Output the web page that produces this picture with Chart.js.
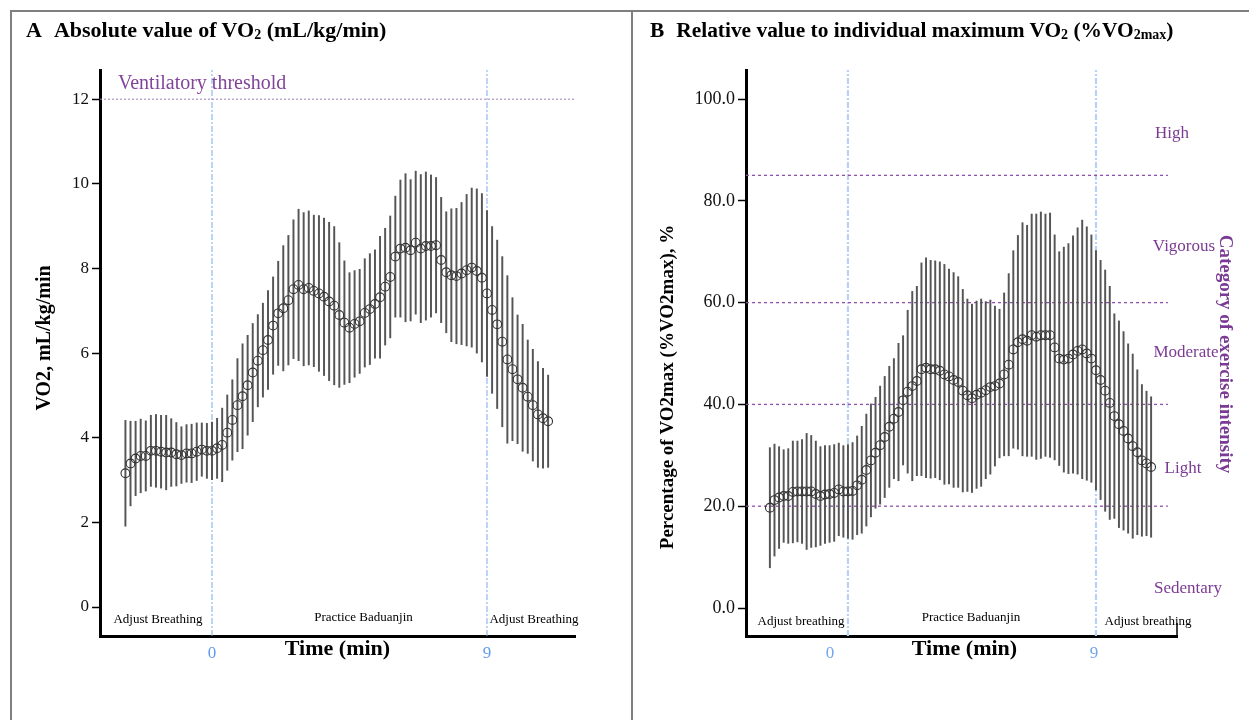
<!DOCTYPE html>
<html>
<head>
<meta charset="utf-8">
<script src="https://cdn.jsdelivr.net/npm/chart.js@4.4.1/dist/chart.umd.min.js"></script>
<style>
  body { margin: 0; background: #fff; }
  #page { position: relative; width: 1249px; height: 720px; overflow: hidden; font-family: "Liberation Serif", "Times New Roman", serif; }
  canvas { position: absolute; top: 0; }
  .frame { position: absolute; background: #7f7f7f; }
  .ptitle { position: absolute; top: 17px; line-height: 26px; font-weight: bold; font-size: 22px; color: #000; white-space: nowrap; }
  .ptitle sub { font-size: 14px; vertical-align: -2px; line-height: 0; }
  .ptitle .txt { margin-left: 12px; }
</style>
</head>
<body>
<div id="page">
  <div class="frame" style="left:10px;top:10px;width:1239px;height:2px"></div>
  <div class="frame" style="left:10px;top:10px;width:2px;height:710px"></div>
  <div class="frame" style="left:631px;top:10px;width:2px;height:710px"></div>
  <canvas id="chartA" width="632" height="720" style="left:0"></canvas>
  <canvas id="chartB" width="617" height="720" style="left:632px"></canvas>
  <div class="ptitle" style="left:26px">A<span class="txt">Absolute value of VO<sub>2</sub> (mL/kg/min)</span></div>
  <div class="ptitle" style="left:650px;font-size:21.4px">B<span class="txt">Relative value to individual maximum VO<sub>2</sub> (%VO<sub>2max</sub>)</span></div>
</div>
<script>
// sampling times, seconds from start of Baduanjin
const timeSec = [-170,-160,-150,-140,-130,-120,-110,-100,-90,-80,-70,-60,-50,-40,-30,-20,-10,
  0,10,20,30,40,50,60,70,80,90,100,110,120,130,140,150,160,170,180,190,200,210,220,230,240,250,
  260,270,280,290,300,310,320,330,340,350,360,370,380,390,400,410,420,430,440,450,460,470,480,490,
  500,510,520,530,540,550,560,570,580,590,600,610,620,630,640,650,660];

// A: VO2 mL/kg/min, mean and SD
const meanA = [3.16,3.39,3.51,3.57,3.57,3.69,3.69,3.67,3.65,3.65,3.61,3.59,3.63,3.63,3.67,3.72,3.69,
  3.69,3.75,3.83,4.12,4.42,4.77,4.98,5.24,5.54,5.82,6.07,6.31,6.65,6.94,7.06,7.25,7.51,7.61,7.51,
  7.54,7.47,7.41,7.33,7.22,7.12,6.90,6.72,6.60,6.69,6.75,6.95,7.04,7.16,7.32,7.57,7.80,8.28,8.47,
  8.49,8.43,8.61,8.47,8.53,8.53,8.55,8.20,7.91,7.84,7.82,7.88,7.96,8.02,7.94,7.78,7.41,7.02,6.68,
  6.27,5.85,5.62,5.38,5.18,4.97,4.77,4.55,4.46,4.39];
const sdA = [1.25,1.00,0.88,0.87,0.83,0.84,0.86,0.86,0.88,0.80,0.75,0.67,0.68,0.69,0.68,0.63,0.65,
  0.68,0.71,0.87,0.89,0.95,1.10,1.24,1.18,1.16,1.09,1.11,1.17,1.15,1.23,1.48,1.53,1.64,1.79,1.81,
  1.82,1.79,1.84,1.86,1.87,1.87,1.71,1.46,1.30,1.26,1.23,1.28,1.31,1.28,1.44,1.38,1.44,1.43,1.62,
  1.75,1.67,1.69,1.75,1.75,1.68,1.60,1.48,1.43,1.57,1.60,1.68,1.79,1.88,1.94,1.99,1.96,1.97,1.99,
  2.01,1.98,1.69,1.52,1.50,1.34,1.32,1.25,1.18,1.09];

// B: %VO2max, mean and SD
const meanB = [19.7,21.2,21.7,22.0,22.0,22.8,22.9,22.9,22.9,22.9,22.4,22.0,22.3,22.4,22.6,23.3,22.9,
  22.9,23.0,24.1,25.2,27.1,29.0,30.5,32.0,33.6,35.6,37.2,38.5,40.8,42.5,43.6,44.6,46.9,47.2,46.9,
  46.9,46.6,45.9,45.5,44.8,44.4,42.7,41.8,41.2,41.9,42.3,42.8,43.4,43.6,44.1,45.9,47.8,50.8,52.2,
  52.8,52.5,53.6,53.3,53.6,53.6,53.6,51.2,49.0,48.8,49.0,49.8,50.5,50.8,50.0,49.0,46.7,44.8,42.7,
  40.3,37.7,36.1,34.8,33.3,31.8,30.6,29.0,28.4,27.7];
const sdB = [11.8,11.0,10.0,9.1,9.3,10.0,9.9,10.2,11.4,11.0,10.4,9.7,9.6,9.5,9.5,9.1,9.0,
  9.2,9.5,9.7,10.5,11.0,11.1,10.9,11.6,11.9,11.9,11.8,13.5,12.7,16.0,18.6,18.6,20.9,21.6,21.4,
  21.3,21.4,21.6,21.1,21.1,20.7,19.9,18.9,18.5,18.4,18.4,17.4,17.1,15.7,14.6,16.0,17.9,19.4,21.0,
  22.9,22.7,23.8,24.1,24.2,23.8,24.0,22.1,21.0,22.1,22.6,23.3,24.2,25.4,24.9,24.3,23.5,23.5,23.7,
  22.9,20.1,20.3,19.5,18.6,18.1,16.2,14.9,14.2,13.8];

const yTicksA = [0, 2, 4, 6, 8, 10, 12];
const yTicksB = [0, 20, 40, 60, 80, 100];
const xTickLabels = ['0', '9'];
const phaseBounds = [0, 9];           // minutes
const phaseNamesA = ['Adjust Breathing', 'Practice Baduanjin', 'Adjust Breathing'];
const phaseNamesB = ['Adjust breathing', 'Practice Baduanjin', 'Adjust breathing'];
const ventThreshold = 12;
const catCuts = [20, 40, 60, 85];
const catNames = ['Sedentary', 'Light', 'Moderate', 'Vigorous', 'High'];
const catLabelAt = [3.8, 27.4, 50.1, 71.1, 93.3];

Chart.defaults.font.family = '"Liberation Serif", "Times New Roman", serif';
Chart.defaults.color = '#000';

const PURPLE = '#7b3a93';

function drawText(ctx, str, x, y, font, color, align, rot) {
  ctx.save();
  ctx.translate(x, y);
  if (rot) ctx.rotate(rot);
  ctx.font = font;
  ctx.fillStyle = color;
  ctx.textAlign = align || 'center';
  ctx.textBaseline = 'middle';
  ctx.fillText(str, 0, 0);
  ctx.restore();
}

function buildChart(id, p) {
  const pts = timeSec.map((t, i) => ({ x: t / 60, y: p.mean[i] }));
  const bars = timeSec.map((t, i) => ({ x: t / 60, y: [p.mean[i] - p.sd[i], p.mean[i] + p.sd[i]] }));

  const datasets = [
    { type: 'scatter', data: pts, order: 0, pointRadius: 4.4, pointBorderWidth: 1.1,
      pointBackgroundColor: 'rgba(0,0,0,0)', pointBorderColor: '#333' },
    { type: 'bar', data: bars, order: 1, barThickness: 1.3, backgroundColor: '#555', borderWidth: 0 }
  ];
  phaseBounds.forEach(b => datasets.push({
    type: 'line', data: [{ x: b, y: p.yMin }, { x: b, y: p.yMax }], order: 3,
    borderColor: p.blueLine, borderWidth: p.blueWidth, borderDash: [6, 2, 2, 2], pointRadius: 0
  }));
  p.hLines.forEach(v => datasets.push({
    type: 'line', data: [{ x: p.xMin, y: v }, { x: p.hLineEnd, y: v }], order: 2,
    borderColor: p.purpleLine, borderWidth: p.purpleWidth, borderDash: p.purpleDash, pointRadius: 0
  }));

  const annot = {
    id: 'annot' + id,
    afterDraw(chart) {
      const ctx = chart.ctx, a = chart.chartArea;
      const xs = chart.scales.x, ys = chart.scales.y;
      p.phaseNames.forEach((s, i) =>
        drawText(ctx, s, p.phaseX[i], p.phaseY[i], '13px "Liberation Serif"', '#000'));
      drawText(ctx, 'Time (min)', (xs.left + xs.right) / 2 + p.xTitleDx, a.bottom + 13,
        'bold 22px "Liberation Serif"', '#000');
      drawText(ctx, p.yTitle, p.yTitleX, p.yTitleY, p.yTitleFont, '#000', 'center', -Math.PI / 2);
      if (p.extra) p.extra(ctx, a, xs, ys);
    }
  };

  return new Chart(document.getElementById(id), {
    type: 'scatter',
    data: { datasets },
    plugins: [annot],
    options: {
      responsive: false,
      animation: false,
      events: [],
      layout: { padding: { left: 0, top: 70, right: p.padRight, bottom: 0 } },
      plugins: { legend: { display: false }, tooltip: { enabled: false } },
      scales: {
        x: {
          type: 'linear', min: p.xMin, max: p.xMax, offset: false,
          grid: { display: false, drawTicks: false },
          border: { display: true, color: '#000', width: 3 },
          afterBuildTicks: s => { s.ticks = p.xTickPos.map(v => ({ value: v })); },
          afterFit: s => { s.height = 84; },
          ticks: { autoSkip: false, maxRotation: 0, padding: 7, color: p.blueText,
            font: { size: 17 }, callback: (v, i) => xTickLabels[i] }
        },
        y: {
          type: 'linear', min: p.yMin, max: p.yMax,
          grid: { display: true, drawOnChartArea: false, drawTicks: true, tickLength: 8,
            tickWidth: 1.5, tickColor: '#000' },
          border: { display: true, color: '#000', width: 3 },
          afterBuildTicks: s => { s.ticks = p.yTicks.map(v => ({ value: v })); },
          afterFit: s => { s.width = p.yWidth; },
          ticks: { autoSkip: false, padding: 3, color: '#111', font: { size: p.yTickSize },
            callback: p.yFmt }
        }
      }
    }
  });
}

buildChart('chartA', {
  mean: meanA, sd: sdA,
  xMin: -3.665, xMax: 11.88, yMin: -0.685, yMax: 12.69,
  yTicks: yTicksA, yFmt: v => String(v), yTickSize: 17, yWidth: 100, padRight: 57,
  xTickPos: phaseBounds, blueText: '#5e9cf0',
  blueLine: '#78a8ee', blueWidth: 1,
  hLines: [ventThreshold], hLineEnd: 11.88,
  purpleLine: '#a281bd', purpleWidth: 1, purpleDash: [2, 2],
  phaseNames: phaseNamesA, phaseX: [158, 363.5, 534], phaseY: [620, 618, 620],
  xTitleDx: 0,
  yTitle: 'VO2, mL/kg/min', yTitleX: 45, yTitleY: 338, yTitleFont: 'bold 20px "Liberation Serif"',
  extra(ctx, a, xs, ys) {
    drawText(ctx, 'Ventilatory threshold', a.left + 18, ys.getPixelForValue(ventThreshold) - 15,
      '20px "Liberation Serif"', '#82449a', 'left');
  }
});

buildChart('chartB', {
  mean: meanB, sd: sdB,
  xMin: -3.70, xMax: 11.94, yMin: -5.5, yMax: 105.7,
  yTicks: yTicksB, yFmt: v => v.toFixed(1), yTickSize: 18, yWidth: 114, padRight: 72,
  xTickPos: [-0.65, 8.93], blueText: '#72a6f0',
  blueLine: '#b6d2f6', blueWidth: 2.2,
  hLines: catCuts, hLineEnd: 11.61,
  purpleLine: '#9150a9', purpleWidth: 1.3, purpleDash: [3, 3],
  phaseNames: phaseNamesB, phaseX: [169, 339, 516], phaseY: [622, 618, 622],
  xTitleDx: 3,
  yTitle: 'Percentage of VO2max (%VO2max), %', yTitleX: 36, yTitleY: 387,
  yTitleFont: 'bold 19px "Liberation Serif"',
  extra(ctx, a, xs, ys) {
    const cx = [556, 551, 554, 552, 540];
    catNames.forEach((s, i) =>
      drawText(ctx, s, cx[i], ys.getPixelForValue(catLabelAt[i]), '17px "Liberation Serif"', PURPLE));
    drawText(ctx, 'Category of exercise intensity', 593, 354, 'bold 19px "Liberation Serif"',
      PURPLE, 'center', Math.PI / 2);
    ctx.save();
    ctx.strokeStyle = '#000';
    ctx.lineWidth = 1.5;
    ctx.beginPath();
    ctx.moveTo(a.right, a.bottom - 13);
    ctx.lineTo(a.right, a.bottom);
    ctx.stroke();
    ctx.restore();
  }
});
</script>
</body>
</html>
